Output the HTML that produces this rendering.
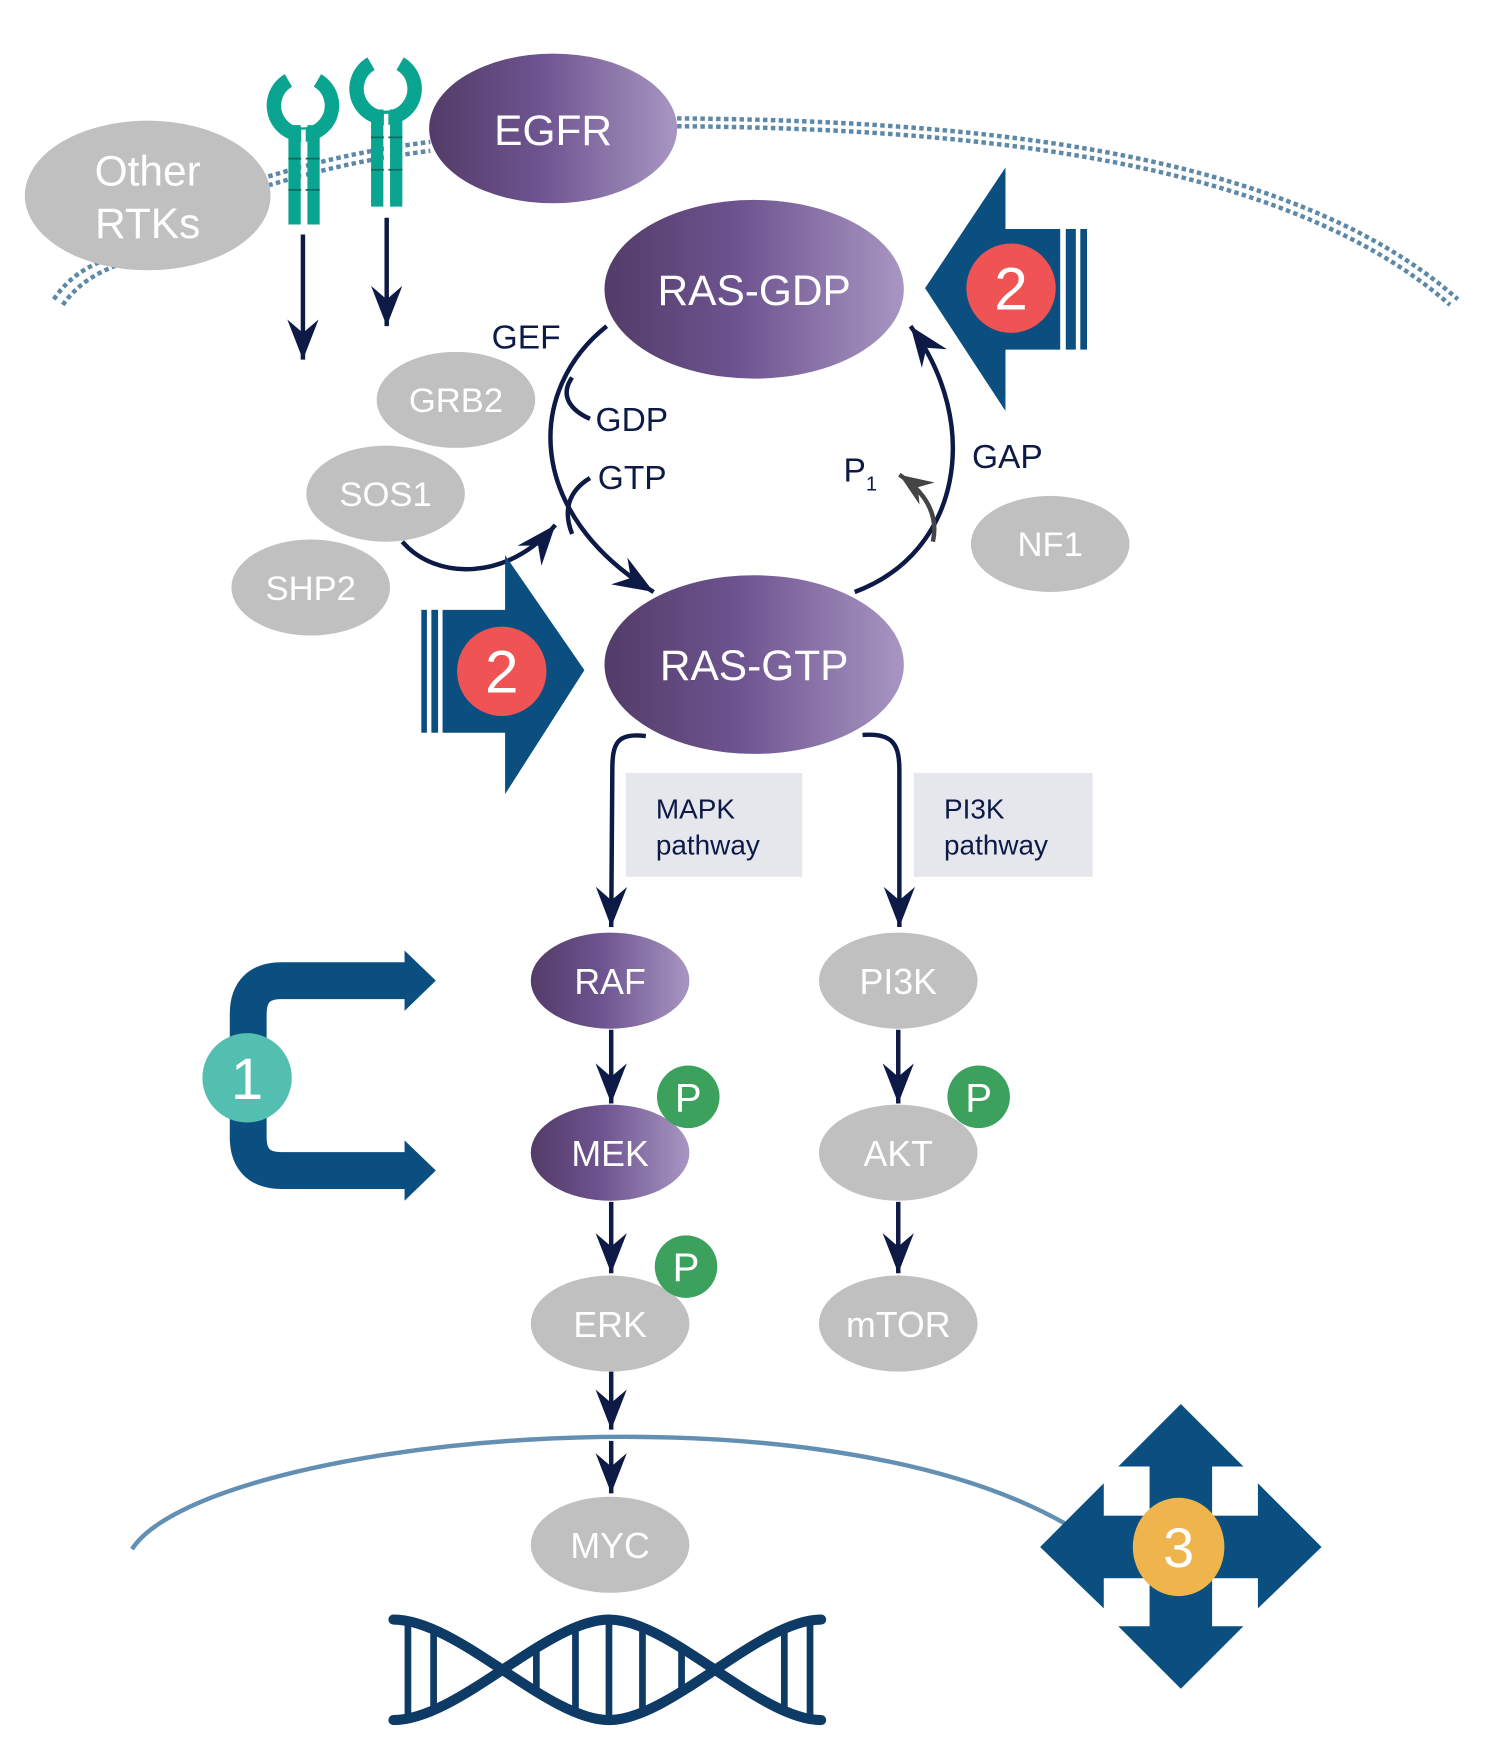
<!DOCTYPE html>
<html><head><meta charset="utf-8"><style>html,body{margin:0;padding:0;background:#fff}svg{display:block}</style></head>
<body>
<svg width="1486" height="1748" viewBox="0 0 1330 1565" xmlns="http://www.w3.org/2000/svg" font-family="Liberation Sans, Arial, sans-serif">
<defs>
<linearGradient id="pg" x1="0" x2="1" y1="0" y2="0"><stop offset="0" stop-color="#523c68"/><stop offset="0.45" stop-color="#6e5490"/><stop offset="1" stop-color="#a896c2"/></linearGradient>
<marker id="ah" markerUnits="userSpaceOnUse" markerWidth="44" markerHeight="34" viewBox="-38 -17 40 34" refX="0" refY="0" orient="auto"><path d="M0,0 L-36,-14 L-24,0 L-36,14Z" fill="#0d1a45"/></marker>
<marker id="ahg" markerUnits="userSpaceOnUse" markerWidth="40" markerHeight="30" viewBox="-34 -15 36 30" refX="0" refY="0" orient="auto"><path d="M0,0 L-30,-12 L-20,0 L-30,12Z" fill="#444"/></marker>
</defs>

<g fill="none" stroke="#5e88a8" stroke-width="4" stroke-dasharray="4 3">
<path d="M48,268 C60,250 75,240 95,232"/>
<path d="M56,273 C68,256 83,246 103,238"/>
<path d="M240,158 C300,140 340,133 385,127"/>
<path d="M240,166 C300,148 340,141 385,135"/>
<path d="M606,106 C850,108 1150,130 1305,268"/>
<path d="M606,113 C850,115 1145,138 1298,273"/>
</g>

<g fill="#0aa591">
<rect x="258" y="112" width="11" height="89"/><rect x="275" y="112" width="11" height="89"/>
<rect x="332" y="98" width="11" height="87"/><rect x="349" y="98" width="11" height="87"/>
</g>
<g fill="none" stroke="#0aa591" stroke-width="13">
<path d="M258,72 A26,26 0 1 0 284,72"/>
<path d="M332,57 A26,26 0 1 0 358,57"/>
</g>
<g stroke="#0b6a5e" stroke-width="1.5"><line x1="258" y1="142" x2="286" y2="142"/><line x1="258" y1="170" x2="286" y2="170"/><line x1="332" y1="123" x2="360" y2="123"/><line x1="332" y1="152" x2="360" y2="152"/></g>
<line x1="271.5" y1="116" x2="271.5" y2="201" stroke="#fff" stroke-width="4"/>
<line x1="345.5" y1="102" x2="345.5" y2="185" stroke="#fff" stroke-width="4"/>

<g stroke="#0d1a45" stroke-width="4" fill="none" marker-end="url(#ah)">
<line x1="271" y1="210" x2="271" y2="322"/>
<line x1="346" y1="195" x2="346" y2="292"/>
</g>

<ellipse cx="132" cy="175" rx="110" ry="67" fill="#c0c0c0"/>
<text x="132" y="166" fill="#fff" font-size="38" text-anchor="middle">Other</text>
<text x="132" y="213" fill="#fff" font-size="38" text-anchor="middle">RTKs</text>

<ellipse cx="495" cy="115" rx="111" ry="67" fill="url(#pg)"/>
<text x="495" y="130" fill="#fff" font-size="38" text-anchor="middle">EGFR</text>

<g stroke="#0d1a45" stroke-width="4" fill="none">
<path d="M543,292 C470,350 470,460 585,530" marker-end="url(#ah)"/>
<path d="M512,338 C500,355 512,368 528,375"/>
<path d="M528,428 C508,440 504,458 512,478"/>
<path d="M765,530 C860,495 880,380 815,292" marker-end="url(#ah)"/>
<path d="M360,485 C390,520 455,520 497,470" marker-end="url(#ah)"/>
</g>
<path d="M835,485 C840,462 830,442 805,425" stroke="#444" stroke-width="4" fill="none" marker-end="url(#ahg)"/>

<g fill="#0d1a45" font-size="30">
<text x="440" y="312">GEF</text>
<text x="533" y="386">GDP</text>
<text x="535" y="438">GTP</text>
<text x="870" y="419">GAP</text>
<text x="755" y="431">P<tspan font-size="18" dy="8">1</tspan></text>
</g>

<ellipse cx="675" cy="259" rx="134" ry="80" fill="url(#pg)"/>
<text x="675" y="273" fill="#fff" font-size="38" text-anchor="middle">RAS-GDP</text>
<ellipse cx="675" cy="595" rx="134" ry="80" fill="url(#pg)"/>
<text x="675" y="609" fill="#fff" font-size="38" text-anchor="middle">RAS-GTP</text>

<g fill="#c0c0c0">
<ellipse cx="408" cy="358" rx="71" ry="43"/>
<ellipse cx="345" cy="442" rx="71" ry="43"/>
<ellipse cx="278" cy="526" rx="71" ry="43"/>
<ellipse cx="940" cy="487" rx="71" ry="43"/>
</g>
<g fill="#fff" font-size="31" text-anchor="middle">
<text x="408" y="369">GRB2</text>
<text x="345" y="453">SOS1</text>
<text x="278" y="537">SHP2</text>
<text x="940" y="498">NF1</text>
</g>

<g fill="#0b4f80">
<polygon points="396,546 452,546 452,497 523,600 452,711 452,656 396,656"/>
<rect x="377" y="546" width="5" height="110"/><rect x="386" y="546" width="6" height="110"/>
<polygon points="949,205 900,205 900,150 828,258 900,368 900,313 949,313"/>
<rect x="954" y="205" width="9" height="108"/><rect x="967" y="205" width="6" height="108"/>
</g>
<circle cx="449" cy="601" r="40" fill="#ef5353"/>
<text x="449" y="620" fill="#fff" font-size="54" text-anchor="middle">2</text>
<circle cx="905" cy="258" r="40" fill="#ef5353"/>
<text x="905" y="277" fill="#fff" font-size="54" text-anchor="middle">2</text>

<g stroke="#0d1a45" stroke-width="4" fill="none" marker-end="url(#ah)">
<path d="M578,659 C552,656 548,665 548,690 L547,830"/>
<path d="M772,658 C800,656 805,667 805,690 L805,830"/>
<line x1="547" y1="922" x2="547" y2="988"/>
<line x1="547" y1="1076" x2="547" y2="1140"/>
<line x1="547" y1="1228" x2="547" y2="1280"/>
<line x1="547" y1="1290" x2="547" y2="1337"/>
<line x1="804" y1="922" x2="804" y2="988"/>
<line x1="804" y1="1076" x2="804" y2="1140"/>
</g>
<rect x="560" y="692" width="158" height="93" fill="#e6e7ec"/>
<rect x="818" y="692" width="160" height="93" fill="#e6e7ec"/>
<g fill="#0d1a45" font-size="25">
<text x="587" y="733">MAPK</text><text x="587" y="765">pathway</text>
<text x="845" y="733">PI3K</text><text x="845" y="765">pathway</text>
</g>

<ellipse cx="546" cy="878" rx="71" ry="43" fill="url(#pg)"/>
<ellipse cx="546" cy="1032" rx="71" ry="43" fill="url(#pg)"/>
<g fill="#c0c0c0">
<ellipse cx="546" cy="1185" rx="71" ry="43"/>
<ellipse cx="546" cy="1383" rx="71" ry="43"/>
<ellipse cx="804" cy="878" rx="71" ry="43"/>
<ellipse cx="804" cy="1032" rx="71" ry="43"/>
<ellipse cx="804" cy="1185" rx="71" ry="43"/>
</g>
<g fill="#fff" font-size="32" text-anchor="middle">
<text x="546" y="890">RAF</text>
<text x="546" y="1044">MEK</text>
<text x="546" y="1197">ERK</text>
<text x="546" y="1395">MYC</text>
<text x="804" y="890">PI3K</text>
<text x="804" y="1044">AKT</text>
<text x="804" y="1197">mTOR</text>
</g>

<g fill="#3ba15d"><circle cx="616" cy="982" r="28"/><circle cx="614" cy="1134" r="28"/><circle cx="876" cy="982" r="28"/></g>
<g fill="#fff" font-size="36" text-anchor="middle"><text x="616" y="995">P</text><text x="614" y="1147">P</text><text x="876" y="995">P</text></g>

<path d="M118,1387 C180,1290 720,1230 955,1365" stroke="#6390b2" stroke-width="4" fill="none"/>

<g fill="#0b4f80">
<rect x="1029" y="1300" width="56" height="170"/>
<rect x="975" y="1357" width="165" height="56"/>
<polygon points="1057,1257 1113,1313 1001,1313"/>
<polygon points="1057,1512 1113,1456 1001,1456"/>
<polygon points="931,1385 988,1328 988,1440"/>
<polygon points="1183,1385 1126,1328 1126,1440"/>
</g>
<ellipse cx="1055" cy="1385" rx="41" ry="44" fill="#f0b44c"/>
<text x="1055" y="1403" fill="#fff" font-size="50" text-anchor="middle">3</text>

<path d="M370,878 H252 Q222,878 222,908 V1018 Q222,1048 252,1048 H370" stroke="#0b4f80" stroke-width="33" fill="none"/>
<polygon points="362,851 390,878 362,905" fill="#0b4f80"/>
<polygon points="362,1021 390,1048 362,1075" fill="#0b4f80"/>
<circle cx="221" cy="965" r="40" fill="#52bfb0"/>
<text x="221" y="984" fill="#fff" font-size="52" text-anchor="middle">1</text>

<g stroke="#0e3a66" fill="none" stroke-linecap="round">
<path stroke-width="9" d="M352,1450 C410,1450 490,1540 545,1540 C600,1540 680,1450 735,1450"/>
<path stroke-width="9" d="M352,1540 C410,1540 490,1450 545,1450 C600,1450 680,1540 735,1540"/>
<g stroke-width="6" stroke-linecap="butt">
<line x1="365" y1="1451" x2="365" y2="1539"/>
<line x1="388" y1="1458" x2="388" y2="1532"/>
<line x1="480" y1="1473" x2="480" y2="1517"/>
<line x1="515" y1="1455" x2="515" y2="1535"/>
<line x1="545" y1="1450" x2="545" y2="1540"/>
<line x1="575" y1="1455" x2="575" y2="1535"/>
<line x1="610" y1="1473" x2="610" y2="1517"/>
<line x1="702" y1="1458" x2="702" y2="1532"/>
<line x1="725" y1="1451" x2="725" y2="1539"/>
</g>
</g>
</svg>
</body></html>
